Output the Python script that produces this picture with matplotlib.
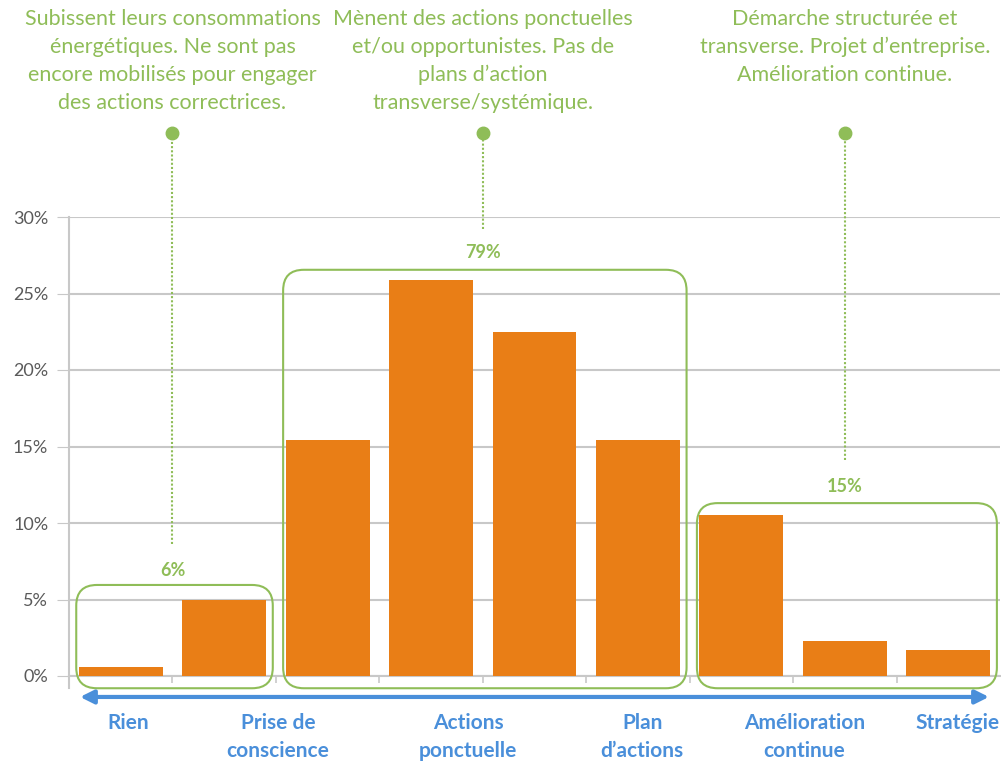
import matplotlib.pyplot as plt
from matplotlib.patches import FancyBboxPatch
from matplotlib.ticker import PercentFormatter

# donnees
categories = ['Rien', 'Prise de conscience', 'Actions 1', 'Actions 2', 'Actions 3',
              'Plan', 'Amelioration', 'Strat 1', 'Strat 2']
values = [0.6, 5.0, 15.4, 25.9, 22.5, 15.4, 10.5, 2.3, 1.7]

groups = [(0, 1), (2, 5), (6, 8)]          # index debut / fin de chaque groupe
group_labels = ['6%', '79%', '15%']
group_texts = [
    "Subissent leurs consommations\nénergétiques. Ne sont pas\nencore mobilisés pour engager\ndes actions correctrices.",
    "Mènent des actions ponctuelles\net/ou opportunistes. Pas de\nplans d\u2019action\ntransverse/systémique.",
    "Démarche structurée et\ntransverse. Projet d\u2019entreprise.\nAmélioration continue.",
]
scale_labels = ['Rien', 'Prise de\nconscience', 'Actions\nponctuelle', 'Plan\nd\u2019actions',
                'Amélioration\ncontinue', 'Stratégie']
scale_pos = [0.07, 1.52, 3.36, 5.04, 6.61, 8.09]
yticks = [0, 5, 10, 15, 20, 25, 30]

orange = '#E97E16'
green = '#8FBD58'
blue = '#4A8FDA'
grey = '#5A5A5A'

plt.rcParams['font.family'] = ['Lato', 'DejaVu Sans']

fig = plt.figure(figsize=(10.01, 7.65), dpi=100)
ax = fig.add_axes([69 / 1001, 89 / 765, 931 / 1001, 459 / 765])

x = range(len(values))
ax.bar(x, values, width=0.81, color=orange, zorder=3)

ax.set_xlim(-0.5, len(values) - 0.5)
ax.set_ylim(0, 30)
ax.set_yticks(yticks)
ax.yaxis.set_major_formatter(PercentFormatter(decimals=0))
ax.tick_params(axis='y', length=9, color='#C8C8C8', labelsize=13, labelcolor=grey, pad=6)
ax.grid(axis='y', color='#C8C8C8', linewidth=1.5, zorder=0)

# petits traits entre les categories
ax.set_xticks([])
ax.set_xticks([i + 0.5 for i in range(len(values) - 1)], minor=True)
ax.tick_params(axis='x', which='minor', length=5, color='#C8C8C8', width=1.2)
ax.tick_params(axis='x', which='major', length=0, labelbottom=False)

for s in ['top', 'right']:
    ax.spines[s].set_visible(False)
ax.spines['left'].set_color('#C8C8C8')
ax.spines['left'].set_linewidth(1.5)
ax.spines['bottom'].set_color('#C8C8C8')
ax.spines['bottom'].set_linewidth(1.5)
ax.spines['left'].set_bounds(-0.8, 30)

# cadres verts arrondis autour des groupes
box_tops = [5.95, 26.55, 11.3]
label_y = [6.9, 27.7, 12.4]
line_bottom = [8.6, 29.2, 14.1]
for (a, b), top, lab, ly, lb, txt in zip(groups, box_tops, group_labels, label_y, line_bottom, group_texts):
    x0 = a - 0.43
    x1 = b + 0.47
    box = FancyBboxPatch((x0, -0.8), x1 - x0, top + 0.8,
                         boxstyle='round,pad=0,rounding_size=0.2', mutation_aspect=0.0677 * 100,
                         fill=False, edgecolor=green, linewidth=1.5, clip_on=False, zorder=4)
    ax.add_patch(box)
    cx = (a + b) / 2
    ax.text(cx, ly, lab, color=green, fontsize=13, fontweight='bold', ha='center', va='center')
    ax.plot([cx, cx], [lb, 35.5], color=green, linestyle=(0, (1, 1)), linewidth=1.5, clip_on=False)
    ax.plot(cx, 35.5, 'o', color=green, markersize=9, clip_on=False)
    ax.text(cx, 43.6, txt, color=green, fontsize=15.5, ha='center', va='top',
            linespacing=1.5, clip_on=False)

# fleche bleue
ax.annotate('', xy=(8.42, -1.37), xytext=(-0.42, -1.37),
            arrowprops=dict(arrowstyle='<|-|>,head_length=0.8,head_width=0.4', color=blue, lw=3),
            annotation_clip=False)
for p, t in zip(scale_pos, scale_labels):
    ax.text(p, -2.45, t, color=blue, fontsize=15, fontweight='bold', ha='center', va='top',
            linespacing=1.5, clip_on=False)

fig.savefig('out.png', dpi=100)
